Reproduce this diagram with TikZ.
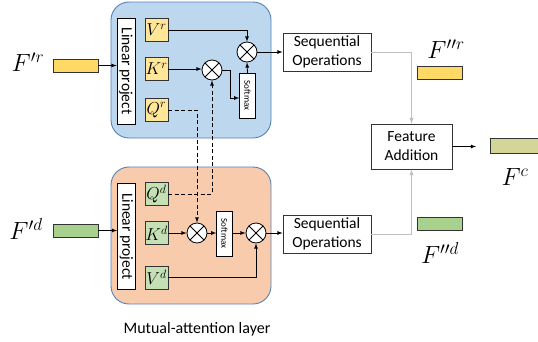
\documentclass[tikz,border=0pt]{standalone}
\usepackage{fontspec}
\setmainfont{Carlito}
\usepackage{tikz}
\usetikzlibrary{positioning}
\usetikzlibrary{arrows.meta}
\definecolor{panelr}{RGB}{189,215,238}
\definecolor{paneld}{RGB}{248,203,173}
\definecolor{panelline}{RGB}{84,130,180}
\definecolor{cellr}{RGB}{255,230,153}
\definecolor{celld}{RGB}{197,224,180}
\definecolor{barr}{RGB}{255,217,102}
\definecolor{bard}{RGB}{169,209,142}
\definecolor{barc}{RGB}{211,214,150}
\tikzset{
    panel/.style = {rectangle, rounded corners=18pt, draw=panelline, line width=0.9pt},
    linproj/.style = {rectangle, thick, draw=black, fill=white, inner sep=0pt, rotate=-90,
        minimum width=106pt, minimum height=18pt, font=\fontsize{15.5}{18}\selectfont},
    qkvr/.style = {rectangle, draw=black!80, fill=cellr, inner sep=0pt, minimum width=23pt,
        minimum height=23pt, font=\fontsize{17}{20}\selectfont},
    qkvd/.style = {qkvr, fill=celld},
    mul/.style = {circle, thick, draw=black, fill=white, inner sep=0pt, minimum size=20pt,
        path picture={\draw[thick] (path picture bounding box.north west) -- (path picture bounding box.south east)
            (path picture bounding box.north east) -- (path picture bounding box.south west);}},
    smbox/.style = {rectangle, draw=black, fill=white, inner sep=0pt, rotate=-90,
        minimum width=45pt, minimum height=16pt, font=\fontsize{9}{10}\selectfont},
    opbox/.style = {rectangle, draw=black!80, thick, align=center, inner sep=0pt,
        minimum width=88pt, minimum height=38pt, font=\fontsize{15.5}{19}\selectfont},
    bar/.style = {rectangle, draw=black!80, thick, inner sep=0pt, minimum width=45pt, minimum height=13pt},
    flabel/.style = {font=\fontsize{26}{30}\selectfont},
    edgen/.style = {-latex, thick},
    edgeg/.style = {-latex, line width=1pt, gray!50}, % fusion
    edgexd/.style = {-latex, thick, dash pattern=on 4pt off 2.5pt}, % cross
}

\begin{document}
\begin{tikzpicture}[x=1pt, y=-1pt]
  \useasboundingbox (0,0) rectangle (538,341);

  % panels
  \node[panel, fill=panelr, minimum width=160pt, minimum height=136pt] (pr) at (191,70) {};
  \node[panel, fill=paneld, minimum width=160pt, minimum height=137pt] (pd) at (191,235.5) {};

  % inputs
  \node[flabel] (fr) at (28,62) {$F^{\prime r}$};
  \node[flabel] (fd) at (26,229) {$F^{\prime d}$};
  \node[bar, fill=barr] (br) at (75.5,65.5) {};
  \node[bar, fill=bard] (bd) at (75.5,230.5) {};
  \node[linproj] (lr) at (126,71) {Linear project};
  \node[linproj] (ld) at (126.5,236.5) {Linear project};

  % top branch
  \node[qkvr] (vr) at (156.5,30) {$V^r$};
  \node[qkvr] (kr) at (156.5,69) {$K^r$};
  \node[qkvr] (qr) at (156.5,110) {$Q^r$};
  \node[mul] (mr1) at (212,70) {};
  \node[mul] (mr2) at (247,52) {};
  \node[smbox] (sr) at (247.5,95.5) {Softmax};

  % bottom branch
  \node[qkvd] (qd) at (156.5,194) {$Q^d$};
  \node[qkvd] (kd) at (156.5,233) {$K^d$};
  \node[qkvd] (vd) at (156.5,277.5) {$V^d$};
  \node[mul] (md1) at (197,233) {};
  \node[smbox] (sd) at (224.5,233.5) {Softmax};
  \node[mul] (md2) at (256,233) {};

  % fusion
  \node[opbox] (or) at (327,52) {Sequential\\Operations};
  \node[opbox] (od) at (327,234) {Sequential\\Operations};
  \node[opbox, minimum width=81pt, minimum height=45pt] (fa) at (411.5,146.5) {Feature\\Addition};
  \coordinate (fout) at (476,146.5);
  \node[bar, fill=barr] (brr) at (439.5,72.5) {};
  \node[bar, fill=bard] (bdd) at (440,224) {};
  \node[bar, fill=barc, minimum width=56pt, minimum height=15pt] (bc) at (518,145.5) {};
  \node[flabel] (frr) at (446,49) {$F^{\prime\prime r}$};
  \node[flabel] (fdd) at (440,253) {$F^{\prime\prime d}$};
  \node[flabel] (fc) at (515,177) {$F^{c}$};

  \node[font=\fontsize{16}{19}\selectfont] (cap) at (197,329) {Mutual-attention layer};

  % connectors
  \draw[edgen] (br.east) -- (br.east -| lr.south);
  \draw[edgen] (bd.east) -- (bd.east -| ld.south);
  \draw[edgen] (vr.east) -| (mr2.north);
  \draw[edgen] (kr.east) -- (kr.east -| mr1.west);
  \draw[edgen] (mr1.east) -- ++(8,0) |- ([yshift=-2.5pt]sr.south);
  \draw[edgen] (sr.west) -- (mr2.south);
  \draw[edgen] (mr2.east) -- (mr2.east -| or.west);
  \draw[edgexd] (qr.east) -| (md1.north);
  \draw[edgexd] (qd.east) -| (mr1.south);
  \draw[edgen] (kd.east) -- (md1.west);
  \draw[edgen] (md1.east) -- (md1.east -| sd.south);
  \draw[edgen] (sd.north |- md2.west) -- (md2.west);
  \draw[edgen] (vd.east) -| (md2.south);
  \draw[edgen] (md2.east) -- (md2.east -| od.west);
  \draw[edgeg] (or.east) -| (fa.north);
  \draw[edgeg] (od.east) -| (fa.south);
  \draw[edgen] (fa.east) -- (fout);
\end{tikzpicture}
\end{document}
